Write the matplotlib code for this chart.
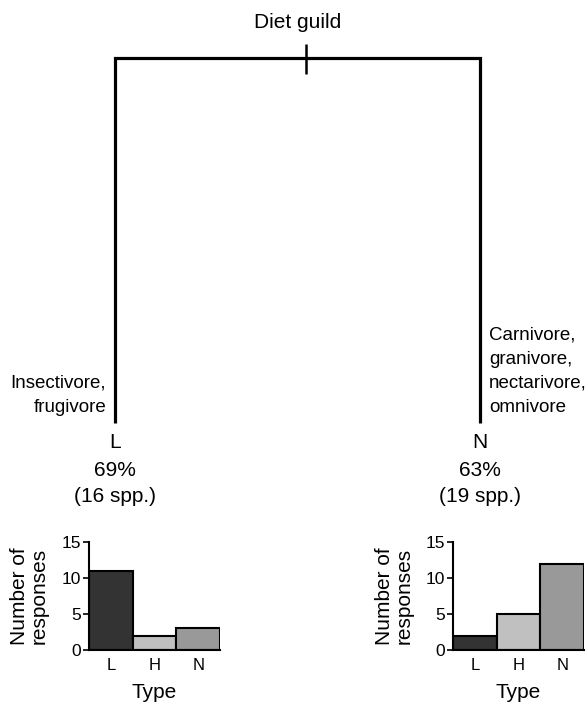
import matplotlib.pyplot as plt
import numpy as np

plt.rcParams['font.family'] = ['Liberation Sans', 'DejaVu Sans']

# tree split
split_name = "Diet guild"
branch_labels = ["L", "N"]
branch_pct = [69, 63]
branch_spp = [16, 19]
branch_desc = [["Insectivore,", "frugivore"],
               ["Carnivore,", "granivore,", "nectarivore,", "omnivore"]]

# response counts by type
types = ["L", "H", "N"]
type_colors = ["#333333", "#c0c0c0", "#999999"]
counts_left = [11, 2, 3]
counts_right = [2, 5, 12]

W, H = 587, 704
fig = plt.figure(figsize=(W / 100, H / 100), dpi=100)

# tree drawn in pixel space
tree = fig.add_axes([0, 0, 1, 1])
tree.set_xlim(0, W)
tree.set_ylim(H, 0)
tree.axis('off')

xl, xr, ytop, ybot = 115, 480, 58, 423
tree.plot([xl, xl, xr, xr], [ybot, ytop, ytop, ybot], color='black', lw=2.3,
          solid_joinstyle='miter', solid_capstyle='butt')
tree.plot([306, 306], [44, 74], color='black', lw=1.8, solid_capstyle='butt')
tree.text(298, 23, split_name, ha='center', va='center', fontsize=15)

for x, lab, pct, spp in zip([xl, xr], branch_labels, branch_pct, branch_spp):
    tree.text(x, 443, lab, ha='center', va='center', fontsize=15)
    tree.text(x, 470, f"{pct}%", ha='center', va='center', fontsize=15)
    tree.text(x, 497, f"({spp} spp.)", ha='center', va='center', fontsize=15)

# descriptions, last line aligned near the branch end
for i, line in enumerate(branch_desc[0][::-1]):
    tree.text(106, 407 - 24 * i, line, ha='right', va='center', fontsize=13.5)
for i, line in enumerate(branch_desc[1][::-1]):
    tree.text(489, 407 - 24 * i, line, ha='left', va='center', fontsize=13.5)


def bar_panel(left_px, counts, label_x):
    ax = fig.add_axes([left_px / W, 1 - 650 / H, 131 / W, 108 / H])
    ax.bar(np.arange(len(types)), counts, width=1.0, color=type_colors,
           edgecolor='black', linewidth=1.5)
    ax.set_xlim(-0.5, 2.5)
    ax.set_ylim(0, 15)
    ax.set_yticks([0, 5, 10, 15])
    ax.set_xticks(np.arange(len(types)))
    ax.set_xticklabels(types)
    ax.tick_params(axis='x', length=0, pad=6, labelsize=12)
    ax.tick_params(axis='y', length=4, width=1.2, pad=2, labelsize=12.5)
    for s in ['top', 'right']:
        ax.spines[s].set_visible(False)
    for s in ['left', 'bottom']:
        ax.spines[s].set_linewidth(1.5)
    ax.set_ylabel("Number of\nresponses", fontsize=15, linespacing=1.05)
    ax.yaxis.set_label_coords(label_x, 0.5)
    ax.set_xlabel("Type", fontsize=15)
    ax.xaxis.set_label_coords(0.5, -0.31)
    return ax


bar_panel(89, counts_left, -0.31)
bar_panel(453, counts_right, -0.30)

fig.savefig('out.png', dpi=100)
